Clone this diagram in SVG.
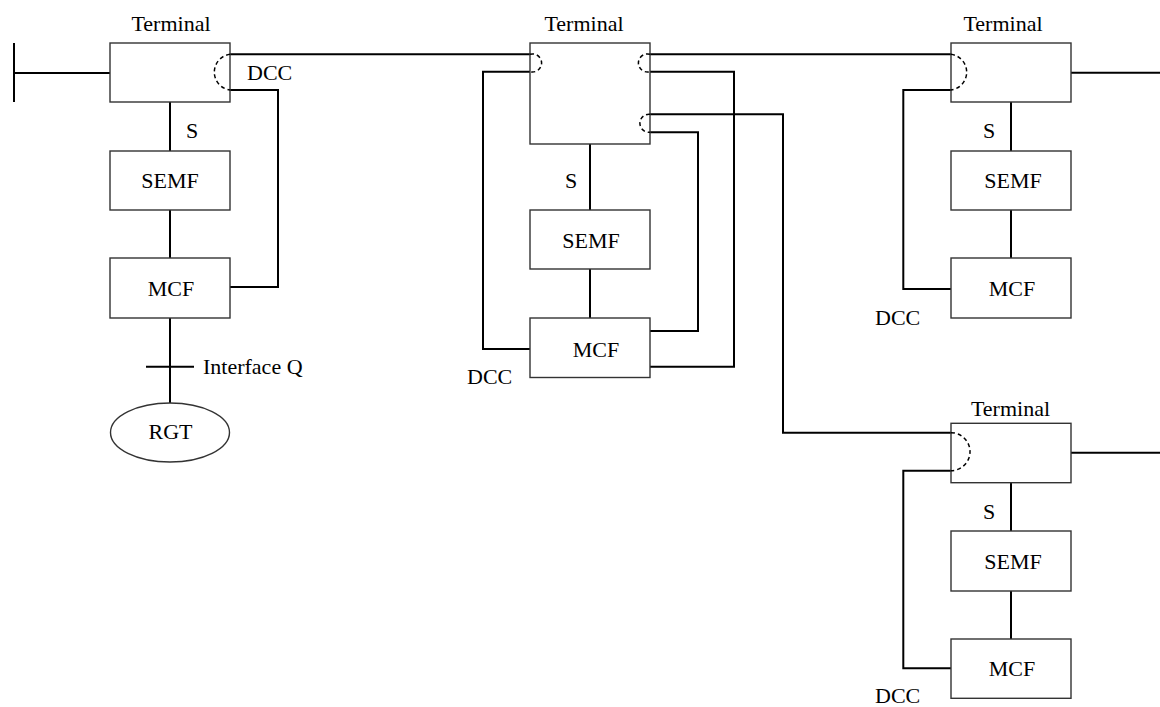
<svg xmlns="http://www.w3.org/2000/svg" width="1160" height="707" viewBox="0 0 1160 707">
<style>
.box{fill:#fff;stroke:#333;stroke-width:1.4}
.ln{fill:none;stroke:#000;stroke-width:2}
.dash{fill:none;stroke:#000;stroke-width:1.5;stroke-dasharray:4 3}
text{font-family:"Liberation Serif","Times New Roman",serif;font-size:22px;fill:#000}
.c{text-anchor:middle}
</style>
<rect width="1160" height="707" fill="#fff"/>
<g id="connectors">
<path class="ln" d="M14,43 V102 M14,73 H110"/>
<path class="ln" d="M230,54.3 H530"/>
<path class="ln" d="M230,90 H278 V287 H230"/>
<path class="ln" d="M170,102 V151 M170,210 V258 M170,318 V403 M146,366.7 H194"/>
<path class="ln" d="M530,71.7 H483 V349 H530"/>
<path class="ln" d="M650,54.3 H951"/>
<path class="ln" d="M650,71.7 H734 V366.7 H650"/>
<path class="ln" d="M650,114.3 H783 V432.7 H951"/>
<path class="ln" d="M650,132.3 H698 V331 H650"/>
<path class="ln" d="M590,144 V210 M590,269 V318"/>
<path class="ln" d="M1071,72.7 H1160"/>
<path class="ln" d="M951,90 H903.3 V289 H951"/>
<path class="ln" d="M1011,102 V151 M1011,210 V258"/>
<path class="ln" d="M1071,452.7 H1160"/>
<path class="ln" d="M951,470.7 H903.3 V668.3 H951"/>
<path class="ln" d="M1011,482.7 V531 M1011,591 V639"/>
</g>
<g id="terminal-left">
<rect class="box" x="110" y="43" width="120" height="59"/>
<path class="dash" d="M230,54.3 A18,18 0 0,0 230,90"/>
<text class="c" x="171" y="31">Terminal</text>
<text x="247" y="80">DCC</text>
<text x="186" y="138">S</text>
</g>
<g id="semf-left"><rect class="box" x="110" y="151" width="120" height="59"/><text class="c" x="170" y="188">SEMF</text></g>
<g id="mcf-left"><rect class="box" x="110" y="258" width="120" height="60"/><text class="c" x="171" y="296">MCF</text></g>
<g id="interface-q"><text x="203" y="374">Interface Q</text></g>
<g id="rgt"><ellipse cx="170" cy="432.5" rx="59.5" ry="29.5" fill="#fff" stroke="#333" stroke-width="1.4"/><text class="c" x="170.5" y="439">RGT</text></g>
<g id="terminal-mid">
<rect class="box" x="530" y="43" width="120" height="101"/>
<path class="dash" d="M530,54.3 A9.06,9.06 0 1,1 530,71.7"/>
<path class="dash" d="M650,54.3 A9.06,9.06 0 1,0 650,71.7"/>
<path class="dash" d="M650,114.3 A9.06,9.06 0 1,0 650,132.3"/>
<text class="c" x="584" y="31">Terminal</text>
<text x="565" y="188">S</text>
</g>
<g id="semf-mid"><rect class="box" x="530" y="210" width="120" height="59"/><text class="c" x="591" y="248">SEMF</text></g>
<g id="mcf-mid"><rect class="box" x="530" y="318" width="120" height="59.5"/><text class="c" x="596" y="357">MCF</text><text x="467" y="384">DCC</text></g>
<g id="terminal-right">
<rect class="box" x="951" y="43" width="120" height="59"/>
<path class="dash" d="M951,54.3 A18,18 0 0,1 951,90"/>
<text class="c" x="1003" y="31">Terminal</text>
<text x="983" y="138">S</text>
</g>
<g id="semf-right"><rect class="box" x="951" y="151" width="120" height="59"/><text class="c" x="1013" y="188">SEMF</text></g>
<g id="mcf-right"><rect class="box" x="951" y="258" width="120" height="60"/><text class="c" x="1012" y="296">MCF</text><text x="875" y="325">DCC</text></g>
<g id="terminal-bottom">
<rect class="box" x="951" y="423.3" width="120" height="59.4"/>
<path class="dash" d="M951,432.7 A19,19 0 0,1 951,470.7"/>
<text class="c" x="1010.5" y="416">Terminal</text>
<text x="983" y="519">S</text>
</g>
<g id="semf-bottom"><rect class="box" x="951" y="531" width="120" height="60"/><text class="c" x="1013" y="569">SEMF</text></g>
<g id="mcf-bottom"><rect class="box" x="951" y="639" width="120" height="59.3"/><text class="c" x="1012" y="676">MCF</text><text x="875" y="703">DCC</text></g>
</svg>
